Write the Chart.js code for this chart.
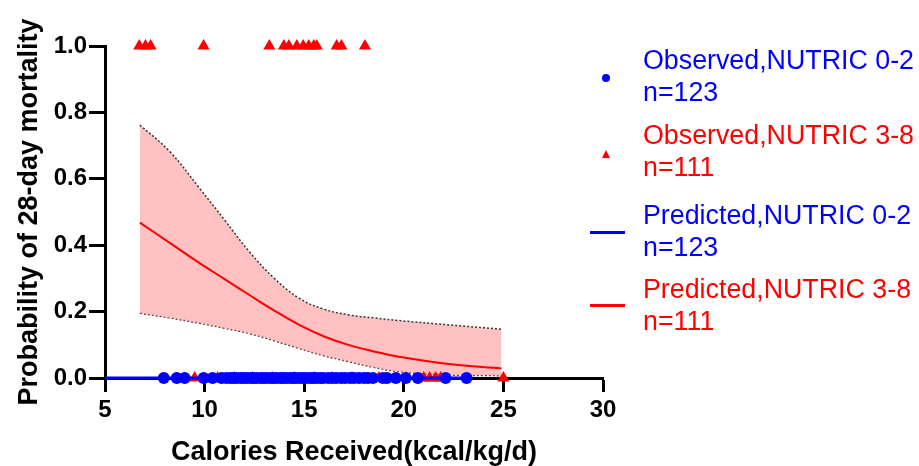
<!DOCTYPE html>
<html>
<head>
<meta charset="utf-8">
<script src="https://cdn.jsdelivr.net/npm/chart.js@4.4.0/dist/chart.umd.min.js"></script>
<style>
  html, body { margin: 0; padding: 0; background: #fff; }
  #wrap { position: relative; width: 919px; height: 466px; }
  #chart { position: absolute; left: 0; top: 0; }
  .leg { position: absolute; left: 643px; font-family: "Liberation Sans", Arial, sans-serif;
         font-size: 26.8px; line-height: 32px; white-space: nowrap; }
  .blue { color: #0000ff; }
  .red { color: #ff0000; }
  .sym { position: absolute; }
</style>
</head>
<body>
<div id="wrap">
  <canvas id="chart" width="919" height="466"></canvas>
  <div class="sym" style="left:602px;top:74px;width:8px;height:8px;border-radius:50%;background:#0000ff;"></div>
  <div class="sym" style="left:602px;top:150px;width:0;height:0;border-left:4.5px solid transparent;border-right:4.5px solid transparent;border-bottom:8px solid #ff0000;"></div>
  <div class="sym" style="left:590px;top:231px;width:35px;height:3px;background:#0000ff;"></div>
  <div class="sym" style="left:590px;top:304px;width:35px;height:3px;background:#ff0000;"></div>
  <div class="leg blue" style="top:44px;">Observed,NUTRIC 0-2<br>n=123</div>
  <div class="leg red" style="top:119px;">Observed,NUTRIC 3-8<br>n=111</div>
  <div class="leg blue" style="top:199px;">Predicted,NUTRIC 0-2<br>n=123</div>
  <div class="leg red" style="top:273px;">Predicted,NUTRIC 3-8<br>n=111</div>
</div>
<script>
// observed deaths (y = 1), NUTRIC 3-8
const redDeadX = [6.72, 7.03, 7.29, 9.95, 13.25, 13.98, 14.23, 14.63, 14.95, 15.23, 15.48, 15.63, 16.63, 16.87, 18.05];
// observed survivors (y = 0), NUTRIC 3-8 (mostly hidden under blue)
const redAliveX = [9.5, 10.65, 11.5, 12.4, 13.4, 14.5, 15.5, 16.4, 17.4, 18.75, 21.0, 21.3, 21.6, 21.85, 25.0];
// observed, NUTRIC 0-2 (y = 0)
const blueX = [7.95, 8.6, 9.0, 9.95, 10.4, 10.85, 11.1, 11.3, 11.45, 11.6, 11.8, 11.95, 12.1, 12.3,
  12.45, 12.6, 12.8, 12.95, 13.1, 13.3, 13.45, 13.6, 13.8, 13.95, 14.1, 14.3, 14.45, 14.6, 14.8,
  14.95, 15.1, 15.3, 15.45, 15.6, 15.8, 15.95, 16.2, 16.4, 16.6, 16.85, 17.05, 17.3, 17.5, 17.75,
  18.0, 18.2, 18.45, 18.95, 19.15, 19.6, 20.1, 20.7, 22.1, 23.15];

// predicted curve NUTRIC 3-8 with 95% band
const curveX = [6.75, 8.25, 9.75, 11.0, 12.25, 13.5, 14.75, 16.0, 17.25, 18.5, 19.75, 22.25, 24.9];
const curveY = [0.468, 0.407, 0.346, 0.298, 0.250, 0.203, 0.160, 0.125, 0.099, 0.080, 0.064, 0.042, 0.029];
const upperY = [0.762, 0.682, 0.571, 0.476, 0.380, 0.300, 0.240, 0.207, 0.190, 0.181, 0.173, 0.160, 0.147];
const lowerY = [0.195, 0.181, 0.165, 0.150, 0.134, 0.112, 0.089, 0.067, 0.049, 0.032, 0.019, 0.009, 0.007];

// predicted NUTRIC 0-2 (flat at zero)
const blueLineX = [5, 23.15];
const blueLineY = [0, 0];

const xTicks = [5, 10, 15, 20, 25, 30];
const yTicks = [0, 0.2, 0.4, 0.6, 0.8, 1.0];

const FONT = '"Liberation Sans", Arial, sans-serif';

function pts(xs, ys) {
  return xs.map((x, i) => ({ x: x, y: Array.isArray(ys) ? ys[i] : ys }));
}

const ctx = document.getElementById("chart");
new Chart(ctx, {
  type: "scatter",
  data: {
    datasets: [
      {
        label: "Observed,NUTRIC 0-2",
        data: pts(blueX, 0),
        pointStyle: "circle",
        pointRadius: 6,
        backgroundColor: "#0000ff",
        borderColor: "#0000ff",
        borderWidth: 0,
        clip: false,
        order: 1,
      },
      {
        type: "line",
        label: "Predicted,NUTRIC 0-2",
        data: pts(blueLineX, blueLineY),
        borderColor: "#0000ff",
        borderWidth: 3,
        pointRadius: 0,
        clip: false,
        order: 2,
      },
      {
        label: "Observed,NUTRIC 3-8 (0)",
        data: pts(redAliveX, 0),
        pointStyle: "triangle",
        pointRadius: 7,
        backgroundColor: "#ff0000",
        borderColor: "#ff0000",
        borderWidth: 0,
        clip: false,
        order: 3,
      },
      {
        label: "Observed,NUTRIC 3-8 (1)",
        data: pts(redDeadX, 1),
        pointStyle: "triangle",
        pointRadius: 7,
        backgroundColor: "#ff0000",
        borderColor: "#ff0000",
        borderWidth: 0,
        clip: false,
        order: 3,
      },
      {
        type: "line",
        label: "Predicted,NUTRIC 3-8",
        data: pts(curveX, curveY),
        borderColor: "#ff0000",
        borderWidth: 2,
        pointRadius: 0,
        tension: 0.4,
        order: 4,
      },
      {
        type: "line",
        label: "upper",
        data: pts(curveX, upperY),
        borderColor: "#333",
        borderWidth: 1.5,
        borderDash: [2, 2],
        pointRadius: 0,
        tension: 0.4,
        backgroundColor: "rgba(255, 160, 160, 0.65)",
        fill: "+1",
        order: 5,
      },
      {
        type: "line",
        label: "lower",
        data: pts(curveX, lowerY),
        borderColor: "#333",
        borderWidth: 1.5,
        borderDash: [2, 2],
        pointRadius: 0,
        tension: 0.4,
        order: 5,
      },
    ],
  },
  options: {
    responsive: false,
    animation: false,
    layout: { padding: { left: 0, top: 46, right: 316, bottom: 0 } },
    plugins: {
      legend: { display: false },
      tooltip: { enabled: false },
    },
    scales: {
      x: {
        type: "linear",
        min: 5,
        max: 30,
        afterBuildTicks: (s) => { s.ticks = xTicks.map((v) => ({ value: v })); },
        afterFit: (s) => { s.height = 88; },
        border: { display: true, color: "#000", width: 3 },
        grid: { drawOnChartArea: false, drawTicks: true, tickLength: 14, tickWidth: 3, tickColor: "#000" },
        ticks: { color: "#000", padding: 4, font: { family: FONT, size: 24, weight: "bold" } },
        title: {
          display: true,
          text: "Calories Received(kcal/kg/d)",
          color: "#000",
          font: { family: FONT, size: 27, weight: "bold", lineHeight: 1.0 },
          padding: { top: 0, bottom: 0 },
        },
      },
      y: {
        type: "linear",
        min: 0,
        max: 1,
        afterBuildTicks: (s) => { s.ticks = yTicks.map((v) => ({ value: v })); },
        afterFit: (s) => { s.width = 105; },
        border: { display: true, color: "#000", width: 3 },
        grid: { drawOnChartArea: false, drawTicks: true, tickLength: 16, tickWidth: 3, tickColor: "#000" },
        ticks: {
          color: "#000",
          padding: 2,
          font: { family: FONT, size: 24, weight: "bold" },
          callback: (v) => v.toFixed(1),
        },
        title: {
          display: true,
          text: "Probability of 28-day mortality",
          color: "#000",
          font: { family: FONT, size: 27, weight: "bold" },
          padding: { top: 13, bottom: 0 },
        },
      },
    },
  },
});
</script>
</body>
</html>
